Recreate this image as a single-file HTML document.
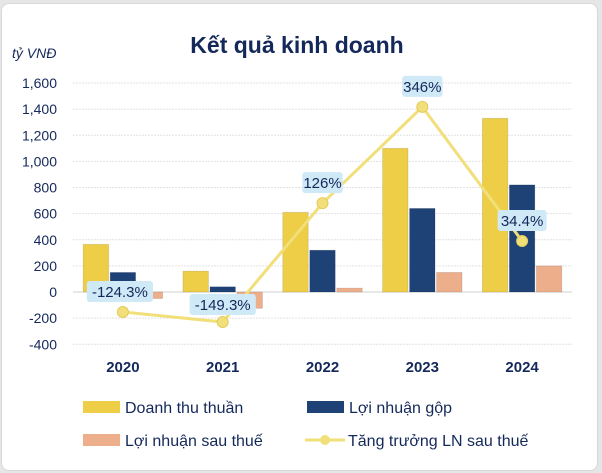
<!DOCTYPE html>
<html><head><meta charset="utf-8"><style>
body{margin:0;background:#e6e6e6;font-family:"Liberation Sans",sans-serif}
#card{position:absolute;left:1px;top:3px;width:595px;height:466px;background:#fff;border-radius:8px;border:1px solid #d8d8d8}
</style></head><body>
<div id="card"></div>
<svg id="c" width="602" height="473" style="position:absolute;left:0;top:0"></svg>
<script>
const categories=["2020","2021","2022","2023","2024"];
const revenue=[365,160,610,1100,1330];
const grossProfit=[150,40,320,640,820];
const netProfit=[-50,-125,30,150,200];
const growthPlot=[-153,-230,680,1417,390];
const growthLabels=["-124.3%","-149.3%","126%","346%","34.4%"];
const yTicks=[-400,-200,0,200,400,600,800,1000,1200,1400,1600];
const tickLabels=["-400","-200","0","200","400","600","800","1,000","1,200","1,400","1,600"];
const NS="http://www.w3.org/2000/svg";
const svg=document.getElementById('c');
const x0=73,x1=572,band=(x1-x0)/categories.length;
const y=v=>292-v*(209/1600);
const xc=i=>x0+band*(i+0.5);
function mk(t,a,p){const e=document.createElementNS(NS,t);for(const k in a)e.setAttribute(k,a[k]);(p||svg).appendChild(e);return e;}
let t=mk('text',{x:297,y:53,'text-anchor':'middle','font-size':23,'font-weight':'bold',fill:'#14285a'});t.textContent='Kết quả kinh doanh';


t=mk('text',{x:12,y:58,'font-size':14,'font-style':'italic',fill:'#14285a'});t.textContent='tỷ VNĐ';


yTicks.forEach((v,i)=>{
 const g=mk('line',{x1:x0,x2:x1,y1:y(v),y2:y(v),stroke:v===0?'#d0d0d0':'#e2e2e2','stroke-width':1,'stroke-dasharray':v===0?'':'2,1'});
 
 
 const l=mk('text',{x:57,y:y(v)+5,'text-anchor':'end','font-size':14,fill:'#14285a'});l.textContent=tickLabels[i];
 
 
});
const series=[[revenue,'#eecd47','revenue'],[grossProfit,'#1e4276','gross-profit'],[netProfit,'#edae8c','net-profit']];
const bw=25.5,gap=1.5;
categories.forEach((c,i)=>{
 series.forEach((s,j)=>{
  const v=s[0][i];const bx=xc(i)-(bw*1.5+gap)+j*(bw+gap);
  const r=mk('rect',{x:bx,y:Math.min(y(v),y(0)),width:bw,height:Math.abs(y(v)-y(0)),fill:s[1],stroke:'rgba(0,0,0,0.12)','stroke-width':0.8});
  
  
 });
 const l=mk('text',{x:xc(i),y:372,'text-anchor':'middle','font-size':15,'font-weight':'bold',fill:'#14285a'});l.textContent=c;
 
 
});
const pts=growthPlot.map((v,i)=>xc(i)+','+y(v)).join(' ');
const pl=mk('polyline',{points:pts,fill:'none',stroke:'#f1df7a','stroke-width':3});


const labOff=[[0,-20],[0,-17],[0,-20],[0,-20],[0,-20]];
growthPlot.forEach((v,i)=>{
 const p=mk('circle',{cx:xc(i),cy:y(v),r:5.5,fill:'#f1df7a',stroke:'#e3cb5c','stroke-width':1});
 
 
 const cx=xc(i)+labOff[i][0]-(i===0?3:0),cy=y(v)+labOff[i][1];
 const w=growthLabels[i].length*8.6+6;
 const b=mk('rect',{x:cx-w/2,y:cy-11,width:w,height:21,rx:3,fill:'#cfe9f7'});
 
 
 const tt=mk('text',{x:cx,y:cy+5,'text-anchor':'middle','font-size':15,fill:'#14285a'});tt.textContent=growthLabels[i];
 
 
});
const leg=[['Doanh thu thuần','#eecd47',83,407,'rect'],['Lợi nhuận gộp','#1e4276',307,407,'rect'],['Lợi nhuận sau thuế','#edae8c',83,440,'rect'],['Tăng trưởng LN sau thuế','#f1df7a',305,440,'line']];
leg.forEach(l=>{
 if(l[4]==='rect'){const r=mk('rect',{x:l[2],y:l[3]-6,width:37,height:12,fill:l[1]});
  
  }
 else{const a=mk('line',{x1:l[2],x2:l[2]+40,y1:l[3],y2:l[3],stroke:l[1],'stroke-width':3});
  
  
  const c=mk('circle',{cx:l[2]+20,cy:l[3],r:5,fill:l[1]});
  
  }
 const tx=mk('text',{x:l[2]+(l[4]==='rect'?42:43),y:l[3]+6,'font-size':16,fill:'#14285a'});tx.textContent=l[0];
 
 
});
</script>
</body></html>
